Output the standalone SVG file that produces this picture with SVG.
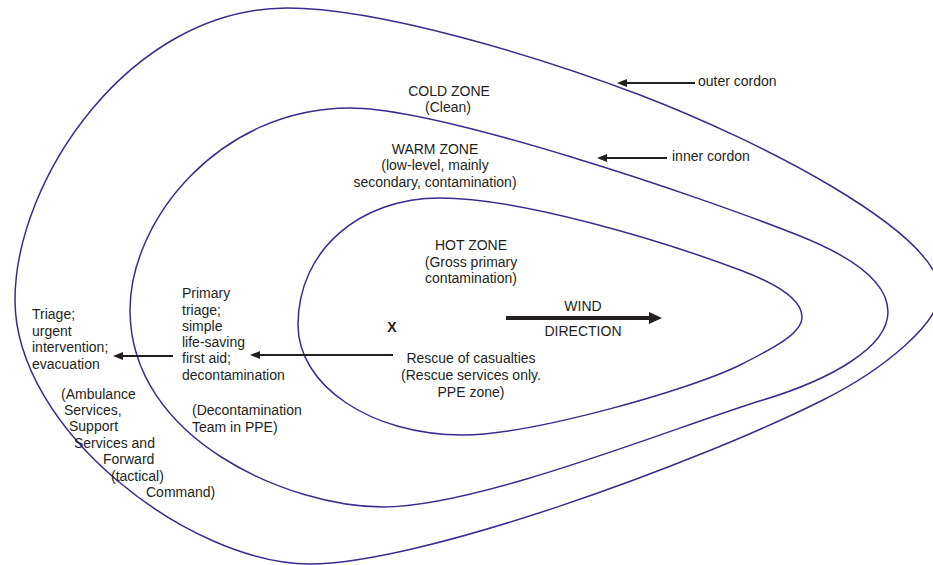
<svg xmlns="http://www.w3.org/2000/svg" width="933" height="565" viewBox="0 0 933 565">
<style>
  .zone { fill: none; stroke: #3c2a8f; stroke-width: 1.5; }
  text { font-family: "Liberation Sans", Arial, sans-serif; font-size: 14px; fill: #231f20; }
  .c { text-anchor: middle; }
  .arr { stroke: #231f20; stroke-width: 2; fill: none; }
  .wind { stroke: #231f20; stroke-width: 4; fill: none; }
</style>
<defs>
  <marker id="head" markerUnits="userSpaceOnUse" markerWidth="10" markerHeight="8" refX="0" refY="4" orient="auto" overflow="visible">
    <path d="M0,0 L10,4 L0,8 z" fill="#231f20"/>
  </marker>
  <marker id="bighead" markerUnits="userSpaceOnUse" markerWidth="13" markerHeight="12" refX="0" refY="6" orient="auto" overflow="visible">
    <path d="M0,0 L13,6 L0,12 z" fill="#231f20"/>
  </marker>
</defs>
<rect width="933" height="565" fill="#ffffff"/>

<g id="outer-zone">
  <path class="zone" d="M287,8 C380,8 540,57 640,95 C760,141 935,230 940,290 C942,322 883,370 823,400 C693,465 420,564 310,564 C190,564 15,430 15,300 C15,180 130,8 287,8 Z"/>
</g>
<g id="warm-zone">
  <path class="zone" d="M350,108 C440,108 700,196 800,236 C860,260 888,285 888,312 C888,348 829,380 763,400 C680,425 480,507 383,507 C290,507 130,440 130,310 C130,220 220,108 350,108 Z"/>
</g>
<g id="hot-zone">
  <path class="zone" d="M440,198 C520,198 660,240 740,270 C780,285 802,300 802,317 C802,332 780,345 740,365 C690,390 530,435 463,435 C370,435 298,385 298,325 C298,250 360,198 440,198 Z"/>
</g>

<g id="cold-label">
  <text class="c" x="449" y="96">COLD ZONE</text>
  <text class="c" x="448" y="112">(Clean)</text>
</g>
<g id="warm-label">
  <text class="c" x="435" y="154">WARM ZONE</text>
  <text class="c" x="435" y="170">(low-level, mainly</text>
  <text class="c" x="435" y="187">secondary, contamination)</text>
</g>
<g id="hot-label">
  <text class="c" x="471" y="250">HOT ZONE</text>
  <text class="c" x="471" y="267">(Gross primary</text>
  <text class="c" x="471" y="283">contamination)</text>
</g>
<g id="wind-label">
  <text class="c" x="583" y="311">WIND</text>
  <text class="c" x="583" y="336">DIRECTION</text>
</g>
<g id="incident">
  <text class="c" x="392" y="332" font-weight="bold">X</text>
</g>
<g id="rescue">
  <text class="c" x="471" y="363">Rescue of casualties</text>
  <text class="c" x="471" y="380">(Rescue services only.</text>
  <text class="c" x="471" y="397">PPE zone)</text>
</g>
<g id="primary-triage">
  <text x="182" y="298">Primary</text>
  <text x="182" y="315">triage;</text>
  <text x="182" y="331">simple</text>
  <text x="182" y="347">life-saving</text>
  <text x="182" y="363">first aid;</text>
  <text x="182" y="380">decontamination</text>
</g>
<g id="decon-team">
  <text x="192" y="415">(Decontamination</text>
  <text x="192" y="432">Team in PPE)</text>
</g>
<g id="triage">
  <text x="32" y="319">Triage;</text>
  <text x="32" y="336">urgent</text>
  <text x="32" y="352">intervention;</text>
  <text x="32" y="369">evacuation</text>
</g>
<g id="ambulance">
  <text x="61" y="399">(Ambulance</text>
  <text x="64" y="415">Services,</text>
  <text x="69" y="431">Support</text>
  <text x="74" y="448">Services and</text>
  <text x="103" y="464">Forward</text>
  <text x="111" y="481">(tactical)</text>
  <text x="146" y="497">Command)</text>
</g>
<g id="outer-cordon-label">
  <text x="698" y="86">outer cordon</text>
</g>
<g id="inner-cordon-label">
  <text x="672" y="161">inner cordon</text>
</g>

<g id="connectors">
  <line class="arr" x1="695" y1="83" x2="627" y2="83" marker-end="url(#head)"/>
  <line class="arr" x1="667" y1="158" x2="607" y2="158" marker-end="url(#head)"/>
  <line class="arr" x1="393" y1="355" x2="260" y2="355" marker-end="url(#head)"/>
  <line class="arr" x1="173" y1="356" x2="123" y2="356" marker-end="url(#head)"/>
  <line class="wind" x1="506" y1="318" x2="649" y2="318" marker-end="url(#bighead)"/>
</g>
</svg>
